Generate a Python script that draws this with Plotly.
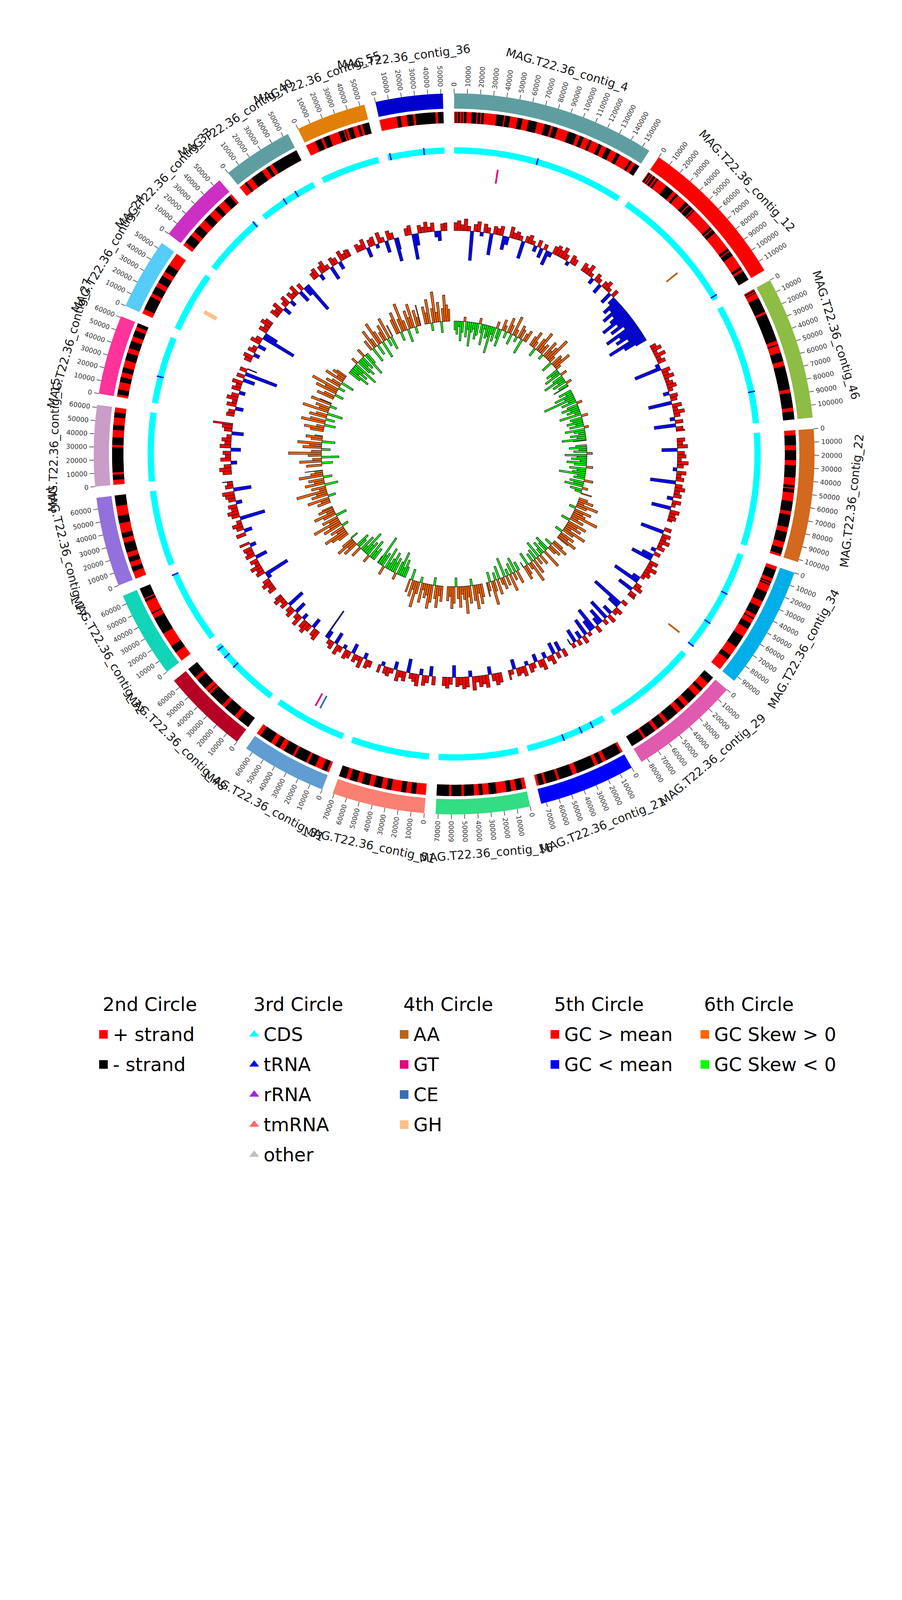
import math
import plotly.graph_objects as go

# ---------------- data ----------------
contig_names = [
    "MAG.T22.36_contig_4", "MAG.T22.36_contig_12", "MAG.T22.36_contig_46",
    "MAG.T22.36_contig_22", "MAG.T22.36_contig_34", "MAG.T22.36_contig_29",
    "MAG.T22.36_contig_21", "MAG.T22.36_contig_16", "MAG.T22.36_contig_51",
    "MAG.T22.36_contig_31", "MAG.T22.36_contig_48", "MAG.T22.36_contig_32",
    "MAG.T22.36_contig_17", "MAG.T22.36_contig_15", "MAG.T22.36_contig_27",
    "MAG.T22.36_contig_24", "MAG.T22.36_contig_33", "MAG.T22.36_contig_40",
    "MAG.T22.36_contig_55", "MAG.T22.36_contig_36",
]
contig_len_kb = [156, 118, 109.5, 102, 94, 85, 74, 72, 71, 65.5,
                 66.5, 66.5, 68.5, 62, 61, 55, 56, 54, 53.5, 51.5]
contig_colors = [
    "#5F9EA0", "#FF0000", "#8DBD45", "#D2691E", "#00AEEA", "#E05AB0",
    "#0000FF", "#33DD83", "#FA8072", "#619CD2", "#B60024", "#12D4B8",
    "#9370DB", "#C99DC7", "#FF3399", "#56CCF9", "#CD2FC5", "#5F9EA0",
    "#E08008", "#0000CD",
]

# 2nd circle: blocks on the - strand (kb); everything else is + strand
minus_blocks = [
    [(1, 2), (3, 4.5), (6, 7), (8, 10), (14, 18), (19, 21), (22, 24), (34, 40), (41, 45),
     (51, 55), (60, 67), (73, 78), (80, 84), (93, 100), (103, 106), (111, 113), (119, 122),
     (126, 130), (135, 138), (147, 149), (152, 156)],
    [(0.5, 2), (3, 4), (5, 7), (8.5, 10), (18, 25), (28, 30), (38, 41), (42, 46), (47, 48),
     (66, 68), (69, 72), (88, 90), (91, 95), (106, 108), (110, 118)],
    [(1, 2), (3, 3.5), (8, 20), (22, 45), (48, 49), (55, 62), (66, 85), (88, 100), (103, 109.5)],
    [(4, 12), (16, 24), (28, 38), (44, 46), (47, 50), (57, 65), (68, 78), (82, 90), (95, 100)],
    [(3, 10), (13, 14), (15, 16), (22, 30), (35, 42), (45, 46), (50, 55), (62, 72), (80, 84)],
    [(0, 6), (12, 15), (20, 28), (32, 36), (40, 50), (53, 60), (63, 72), (74, 85)],
    [(2, 15), (18, 22), (25, 40), (44, 55), (57, 66), (68, 72)],
    [(3, 8), (12, 16), (24, 30), (35, 38), (42, 50), (52, 60), (62, 72)],
    [(8, 12), (16, 20), (28, 32), (36, 42), (46, 52), (56, 62), (65, 71)],
    [(2, 6), (12, 18), (20, 30), (32, 40), (44, 48), (52, 62)],
    [(0, 10), (14, 24), (27, 40), (42, 43), (46, 55), (58, 66.5)],
    [(8, 14), (26, 40), (44, 45), (55, 57), (58, 66.5)],
    [(6, 10), (14, 18), (22, 30), (34, 38), (46, 52), (60, 68.5)],
    [(4, 8), (10, 30), (32, 38), (44, 48), (54, 58)],
    [(2, 6), (12, 16), (20, 24), (30, 36), (40, 46), (50, 55), (58, 61)],
    [(4, 15), (18, 24), (28, 34), (38, 44)],
    [(3, 10), (14, 20), (26, 32), (38, 42), (48, 54)],
    [(5, 7), (12, 22), (26, 29), (32, 54)],
    [(8, 13), (15, 20), (28, 32), (33, 34), (36, 40), (44, 46), (48, 53.5)],
    [(14, 17), (22, 27), (29, 45), (47, 51.5)],
]

# 3rd circle: tRNA positions (kb); CDS cover each contig
trna_kb = [[75.6], [115], [81], [], [37.8, 67.8, 93], [], [12.5, 23.4, 40.5], [], [], [],
           [42.5, 54, 63], [66], [], [], [24], [], [54.5], [23.8, 36.2], [], [2.5, 33]]

# 4th circle: CAZy hits
cazy_contig = [0, 1, 4, 9, 9, 15]
cazy_kb = [41.6, 78, 91, 30, 35, 25.5]
cazy_class = ["GT", "AA", "AA", "CE", "GT", "GH"]
cazy_colors = {"AA": "#B8621B", "GT": "#E6007E", "CE": "#3A6DB5", "GH": "#FDBF87"}

# 5th circle: GC content minus mean (%), 4 kb windows
gc_dev = [
    [2.0, 2.5, 1.5, 3.0, 1.2, -7.5, 1.8, 2.6, -1.0, 2.2, 1.4, -5.5, 2.0, 1.6, 2.4, -3.5, -2.0,
     2.8, 1.5, 2.0, 1.2, -4.5, 1.6, 2.2, 1.0, -1.5, 1.8, -2.5, 1.4, -3.8, -1.2, 2.0, 2.6, 1.8,
     3.0, 1.5, -1.0, 2.2, 1.6],
    [2.2, 1.5, 2.8, 1.0, -1.5, 2.0, 1.2, -2.5, 1.6, 2.4, 1.0, -3.0, 1.8, -2.0, -4.5, -3.0,
     -6.0, -3.5, -5.0, -8.0, -4.0, -6.5, -3.0, -9.0, -5.5, -7.0, -4.0, -10.0, -6.0, -3.0],
    [1.5, 2.5, 1.0, 2.8, 1.2, 2.0, -1.0, -7.0, 2.2, 1.5, 2.6, 1.0, 1.8, 2.4, 1.2, -1.5, 2.0,
     1.6, -6.0, 2.4, 1.2, 2.8, 1.5, -1.2, 2.0, -5.5, 1.8, 2.2],
    [2.0, 1.4, 2.6, -4.0, 1.8, 2.2, 1.0, 2.8, 1.6, -1.0, 2.4, 1.2, 2.0, -6.5, 1.8, 2.6, 1.4,
     2.0, -1.5, 2.2, 1.0, -5.0, 2.4, 1.6, 2.0, 1.2],
    [1.8, -6.0, 2.2, 1.4, 2.6, 1.0, 2.0, -1.2, 1.6, -3.0, -5.5, 2.2, 1.2, 2.8, 1.5, 2.0, 1.0,
     -2.0, -7.0, 1.6, 2.4, -4.0, 1.8, 2.0],
    [1.5, -8.5, -3.0, 2.0, 1.2, -2.5, 2.2, -5.5, 1.4, -4.0, -2.0, 1.8, -6.0, -3.0, 1.0, -4.5,
     2.0, -2.0, 1.5, -3.5, 1.2, -1.5],
    [2.0, -2.5, 1.6, -3.0, 2.4, 1.2, -1.5, 2.8, 1.8, -2.0, 1.4, 2.2, -1.0, 2.6, 1.6, 2.0, -2.5,
     1.2, 2.4],
    [2.5, 3.0, 1.8, -2.0, 3.2, 2.2, 2.8, 1.5, 3.5, -1.5, 2.6, 3.0, 2.0, 2.4, -3.0, 1.8, 2.8, 2.2],
    [2.2, -2.5, 1.8, 2.6, -1.5, 3.0, 2.0, 1.4, -3.5, 2.4, 1.6, 2.8, -2.0, 1.2, 2.2, 1.8, -1.0, 2.0],
    [1.6, 2.2, -1.5, 2.8, 1.2, 2.0, -2.5, 1.8, 2.4, -1.0, 1.4, 2.6, -3.0, 2.0, 1.2, -2.0, -8.0],
    [2.6, 2.0, -2.5, 1.8, 3.0, 2.2, -1.5, 2.8, 1.4, -3.0, 2.4, 1.6, -4.5, 2.0, 1.2, 2.6, 1.8],
    [2.0, 1.4, 2.6, 1.8, -1.0, -6.5, 2.2, 1.6, 2.8, 1.2, 2.0, -3.0, 2.4, 1.8, 2.2, -1.5, 2.6],
    [2.4, -2.0, 1.8, 2.6, 1.2, -6.5, 2.0, 2.8, 1.6, 2.2, -1.5, 1.8, 2.4, 3.0, -4.5, 2.0, 1.4, 2.6],
    [2.2, 3.0, 1.8, -1.5, 2.6, 1.4, 2.0, -2.5, 2.8, 1.6, 2.4, 1.2, -3.0, 2.0, 2.6, 5.0],
    [2.0, 1.6, -2.0, 2.4, 1.2, 2.8, 1.8, -1.5, 2.2, 1.4, 2.6, -3.0, 2.0, -8.5, 1.8, -2.5],
    [1.8, 2.4, -1.5, 2.0, 1.2, -2.0, 2.6, 1.6, -9.0, -3.5, 2.2, 1.4, 2.8, 2.0],
    [2.2, 1.6, 2.8, -2.0, 1.4, 2.4, -1.5, 2.0, 1.2, 2.6, -3.0, 1.8, -2.5, -8.0],
    [1.8, 2.4, -1.5, 2.0, 2.8, 1.2, -3.5, 2.2, 1.6, -2.0, 2.6, 1.4, 2.0, 1.8],
    [2.0, 1.4, 2.6, -2.5, 1.8, 2.2, -1.0, 2.8, 1.2, -3.0, 2.4, 1.6, -6.0, -3.0],
    [1.8, 2.4, -6.5, -3.0, 2.0, 1.4, 2.6, 1.2, 2.2, -1.5, -2.5, 1.8, 2.0],
]

# 6th circle: GC skew, 4 kb windows
gc_skew = [
    [-0.08, -0.12, -0.05, -0.18, -0.10, 0.04, -0.14, -0.07, -0.22, -0.09, -0.06, -0.15, -0.11,
     0.05, -0.08, -0.19, -0.04, -0.12, -0.10, -0.25, -0.07, -0.13, 0.06, -0.09, -0.16, 0.10,
     0.05, -0.06, 0.14, 0.08, -0.10, 0.18, 0.06, -0.05, 0.12, 0.09, -0.14, 0.07, 0.11],
    [0.09, 0.15, 0.06, -0.08, 0.12, 0.20, 0.07, 0.10, -0.05, 0.16, 0.08, 0.13, 0.24, 0.06,
     -0.10, 0.11, 0.09, 0.17, 0.05, -0.12, -0.08, -0.16, 0.06, -0.10, -0.20, -0.07, -0.13,
     0.05, -0.09, -0.15],
    [-0.12, -0.06, -0.18, -0.09, -0.30, -0.07, -0.14, 0.05, -0.10, -0.16, -0.08, -0.12, -0.05,
     -0.20, 0.06, -0.11, -0.09, -0.15, -0.07, -0.13, 0.04, -0.18, -0.10, -0.06, -0.14, -0.08,
     -0.22, -0.12],
    [-0.10, -0.16, -0.07, -0.12, 0.05, -0.20, -0.09, -0.14, -0.06, -0.18, -0.11, 0.06, -0.15,
     -0.08, -0.12, -0.24, -0.07, -0.10, 0.08, -0.13, -0.09, -0.17, 0.05, -0.11, -0.06, 0.10],
    [0.08, 0.14, 0.06, 0.20, 0.10, -0.06, 0.16, 0.09, 0.12, 0.25, 0.07, 0.13, -0.08, 0.18,
     0.10, 0.15, 0.06, 0.22, 0.11, -0.07, 0.14, 0.09, 0.19, 0.12],
    [0.10, 0.16, -0.07, 0.12, 0.08, -0.14, -0.09, 0.18, -0.12, -0.06, 0.10, -0.16, 0.07,
     -0.10, 0.14, -0.08, 0.20, 0.06, -0.12, 0.09, 0.13, -0.05],
    [-0.08, 0.12, -0.14, 0.07, -0.10, 0.16, -0.06, 0.09, -0.18, 0.11, 0.06, -0.12, 0.14,
     -0.07, 0.10, 0.22, -0.09, 0.08, 0.13],
    [0.12, 0.18, 0.08, 0.22, 0.14, -0.06, 0.16, 0.10, 0.25, 0.12, 0.07, 0.19, 0.11, -0.08,
     0.15, 0.20, 0.09, 0.13],
    [0.14, 0.09, 0.20, 0.12, -0.07, 0.16, 0.22, 0.10, 0.13, 0.06, 0.18, -0.05, 0.11, 0.24,
     0.08, 0.15, -0.10, 0.12],
    [-0.10, -0.16, -0.08, -0.22, -0.12, 0.06, -0.14, -0.09, -0.18, -0.11, -0.06, -0.20, 0.08,
     -0.13, -0.10, -0.28, -0.07],
    [-0.12, -0.08, -0.18, 0.07, -0.14, -0.10, -0.22, -0.06, -0.15, 0.10, -0.09, -0.13, 0.14,
     0.08, 0.18, 0.11, -0.07],
    [0.10, 0.16, 0.22, 0.08, 0.13, -0.06, 0.18, 0.11, 0.26, 0.09, 0.15, -0.10, 0.12, 0.20,
     0.07, 0.14, 0.10],
    [0.12, 0.08, 0.20, -0.07, 0.15, 0.10, 0.28, 0.06, 0.13, -0.12, 0.18, 0.09, 0.14, -0.08,
     0.22, 0.11, 0.07, 0.16],
    [0.14, -0.10, 0.20, 0.08, -0.16, 0.12, 0.30, 0.09, -0.08, 0.17, 0.11, 0.22, -0.12, 0.10,
     0.15, 0.07],
    [0.12, 0.18, 0.07, -0.10, 0.22, 0.14, -0.08, 0.16, 0.10, -0.14, 0.24, 0.09, 0.13, -0.06,
     0.19, 0.11],
    [0.16, 0.10, -0.08, 0.20, 0.12, 0.26, -0.06, 0.14, 0.09, -0.12, 0.18, 0.07, 0.13, 0.10],
    [-0.12, -0.20, -0.08, -0.16, -0.10, -0.24, 0.06, -0.14, -0.18, -0.09, -0.13, 0.08, -0.22,
     -0.11],
    [0.10, -0.14, 0.18, 0.08, -0.10, 0.22, 0.12, -0.16, 0.09, 0.15, -0.07, 0.20, -0.12, 0.11],
    [0.14, 0.20, -0.08, 0.12, 0.26, 0.09, -0.12, 0.17, 0.10, 0.22, -0.06, 0.15, 0.08, 0.19],
    [0.16, 0.10, 0.22, -0.07, 0.13, 0.28, 0.09, 0.18, -0.10, 0.12, 0.24, 0.15, 0.11],
]
WIN_KB = 4
TICK_KB = 10

legend_titles = ["2nd Circle", "3rd Circle", "4th Circle", "5th Circle", "6th Circle"]
legend_labels = [["+ strand", "- strand"],
                 ["CDS", "tRNA", "rRNA", "tmRNA", "other"],
                 ["AA", "GT", "CE", "GH"],
                 ["GC > mean", "GC < mean"],
                 ["GC Skew > 0", "GC Skew < 0"]]
legend_colors = [["#FF0000", "#000000"],
                 ["#00FFFF", "#0000FF", "#A020F0", "#FF6A6A", "#BFBFBF"],
                 ["#B8621B", "#E6007E", "#3A6DB5", "#FDBF87"],
                 ["#FF0000", "#0000FF"],
                 ["#FF6600", "#00FF00"]]
legend_symbols = ["square", "triangle-up", "square", "square", "square"]

# ---------------- layout constants (px) ----------------
W, H = 2310, 4620
CX, CY = 1155, 1154
R_MAX = 1060
GAP_DEG = 1.8
FONT = "DejaVu Sans"

R_CONTIG = (884, 923)
R_STRAND = (847, 876)
R_CDS = (769, 785)
R_CAZY = (700, 736)
GC_BASE, GC_SCALE = 572, 10.0
SKEW_BASE, SKEW_SCALE = 340, 280.0

n = len(contig_len_kb)
deg_per_kb = (360 - GAP_DEG * n) / sum(contig_len_kb)
starts = []
acc = 0.0
for L in contig_len_kb:
    starts.append(acc)
    acc += L * deg_per_kb + GAP_DEG


def ang(i, kb):
    return starts[i] + kb * deg_per_kb


def sector(i, a, b):
    return (ang(i, a) + ang(i, b)) / 2, (b - a) * deg_per_kb


fig = go.Figure()

# 1st circle: contigs
th, wd = zip(*[sector(i, 0, contig_len_kb[i]) for i in range(n)])
fig.add_trace(go.Barpolar(theta=th, width=wd, r=[R_CONTIG[1] - R_CONTIG[0]] * n,
                          base=[R_CONTIG[0]] * n, marker=dict(color=contig_colors, line_width=0)))

# 2nd circle: strand
fig.add_trace(go.Barpolar(theta=th, width=wd, r=[R_STRAND[1] - R_STRAND[0]] * n,
                          base=[R_STRAND[0]] * n, marker=dict(color="#FF0000", line_width=0)))
mt, mw = [], []
for i, blocks in enumerate(minus_blocks):
    for a, b in blocks:
        t, w = sector(i, a, b)
        mt.append(t)
        mw.append(w)
fig.add_trace(go.Barpolar(theta=mt, width=mw, r=[R_STRAND[1] - R_STRAND[0]] * len(mt),
                          base=[R_STRAND[0]] * len(mt), marker=dict(color="#000000", line_width=0)))

# 3rd circle: CDS + tRNA
fig.add_trace(go.Barpolar(theta=th, width=wd, r=[R_CDS[1] - R_CDS[0]] * n,
                          base=[R_CDS[0]] * n, marker=dict(color="#00FFFF", line_width=0)))
tt = [ang(i, p) for i, ps in enumerate(trna_kb) for p in ps]
fig.add_trace(go.Barpolar(theta=tt, width=[0.25] * len(tt), r=[R_CDS[1] - R_CDS[0] + 2] * len(tt),
                          base=[R_CDS[0]] * len(tt), marker=dict(color="#0000FF", line_width=0)))

# 4th circle: CAZy
ct = [ang(i, p) for i, p in zip(cazy_contig, cazy_kb)]
cw = [0.8 if c == "GH" else 0.35 for c in cazy_class]
fig.add_trace(go.Barpolar(theta=ct, width=cw, r=[R_CAZY[1] - R_CAZY[0]] * len(ct),
                          base=[R_CAZY[0]] * len(ct),
                          marker=dict(color=[cazy_colors[c] for c in cazy_class], line_width=0)))


# 5th / 6th circles: windowed bars around a baseline
def window_bars(values, base, scale, pos_color, neg_color):
    pt, pw, pr, pb, nt, nw, nr, nb = [], [], [], [], [], [], [], []
    for i, vals in enumerate(values):
        for k, v in enumerate(vals):
            a = k * WIN_KB
            b = min(a + WIN_KB, contig_len_kb[i])
            if a >= b:
                continue
            t, w = sector(i, a, b)
            h = abs(v) * scale
            if v >= 0:
                pt.append(t); pw.append(w); pr.append(h); pb.append(base)
            else:
                nt.append(t); nw.append(w); nr.append(h); nb.append(base - h)
    line = dict(color="#1a1a1a", width=1.3)
    return [go.Barpolar(theta=pt, width=pw, r=pr, base=pb, marker=dict(color=pos_color, line=line)),
            go.Barpolar(theta=nt, width=nw, r=nr, base=nb, marker=dict(color=neg_color, line=line))]


for tr in window_bars(gc_dev, GC_BASE, GC_SCALE, "#FF0000", "#0000FF"):
    fig.add_trace(tr)
for tr in window_bars(gc_skew, SKEW_BASE, SKEW_SCALE, "#FF6600", "#00FF00"):
    fig.add_trace(tr)

# ticks on the contig circle
tr_r, tr_t = [], []
annotations = []
FS_TICK = 17
for i, L in enumerate(contig_len_kb):
    k = 0
    while k * TICK_KB <= L:
        kb = k * TICK_KB
        a = ang(i, kb)
        tr_r += [R_CONTIG[1], R_CONTIG[1] + 12, None]
        tr_t += [a, a, None]
        label = str(int(kb * 1000))
        half = len(label) * 0.636 * FS_TICK / 2
        rc = R_CONTIG[1] + 17 + half
        rad = math.radians(a)
        textangle = a - 90 if (a % 360) < 180 else a - 270
        annotations.append(dict(x=CX + rc * math.sin(rad), y=CY - rc * math.cos(rad),
                                xref="x", yref="y", text=label, showarrow=False,
                                textangle=textangle, xanchor="center", yanchor="middle",
                                font=dict(family=FONT, size=FS_TICK, color="#333333")))
        k += 1
fig.add_trace(go.Scatterpolar(r=tr_r, theta=tr_t, mode="lines",
                              line=dict(color="#333333", width=1.5), hoverinfo="skip"))

# contig names
for i, L in enumerate(contig_len_kb):
    a = ang(i, L / 2)
    rad = math.radians(a)
    rc = 1025
    if 90 < a < 270:
        textangle = a - 180
    else:
        textangle = a if a <= 180 else a - 360
    annotations.append(dict(x=CX + rc * math.sin(rad), y=CY - rc * math.cos(rad),
                            xref="x", yref="y", text=contig_names[i], showarrow=False,
                            textangle=textangle, xanchor="center", yanchor="middle",
                            font=dict(family=FONT, size=30, color="#1a1a1a")))

# legend (drawn by hand below the circle)
COL_X = [257, 643, 1027, 1413, 1797]
HEAD_Y = 2563
ROW_DY = 77
lx, ly, lc, ls = [], [], [], []
for c, title in enumerate(legend_titles):
    annotations.append(dict(x=COL_X[c] - 4, y=HEAD_Y, xref="x", yref="y", text=title,
                            showarrow=False, xanchor="left", yanchor="middle",
                            font=dict(family=FONT, size=48, color="black")))
    for r, lab in enumerate(legend_labels[c]):
        y = HEAD_Y + ROW_DY * (r + 1)
        lx.append(COL_X[c])
        ly.append(y)
        lc.append(legend_colors[c][r])
        ls.append(legend_symbols[c])
        annotations.append(dict(x=COL_X[c] + 22, y=y, xref="x", yref="y", text=lab,
                                showarrow=False, xanchor="left", yanchor="middle",
                                font=dict(family=FONT, size=48, color="black")))
fig.add_trace(go.Scatter(x=lx, y=ly, mode="markers", xaxis="x", yaxis="y",
                         marker=dict(color=lc, symbol=ls, size=22, line_width=0),
                         hoverinfo="skip"))

fig.update_layout(
    width=W, height=H, showlegend=False,
    margin=dict(l=0, r=0, t=0, b=0),
    paper_bgcolor="white", plot_bgcolor="rgba(0,0,0,0)",
    xaxis=dict(range=[0, W], visible=False, domain=[0, 1], fixedrange=True),
    yaxis=dict(range=[H, 0], visible=False, domain=[0, 1], fixedrange=True),
    polar=dict(
        domain=dict(x=[(CX - R_MAX) / W, (CX + R_MAX) / W],
                    y=[1 - (CY + R_MAX) / H, 1 - (CY - R_MAX) / H]),
        bgcolor="rgba(0,0,0,0)", barmode="overlay", bargap=0, hole=0,
        radialaxis=dict(range=[0, R_MAX], visible=False),
        angularaxis=dict(rotation=90, direction="clockwise", visible=False),
    ),
    annotations=annotations,
)

fig.write_html("out.html")
